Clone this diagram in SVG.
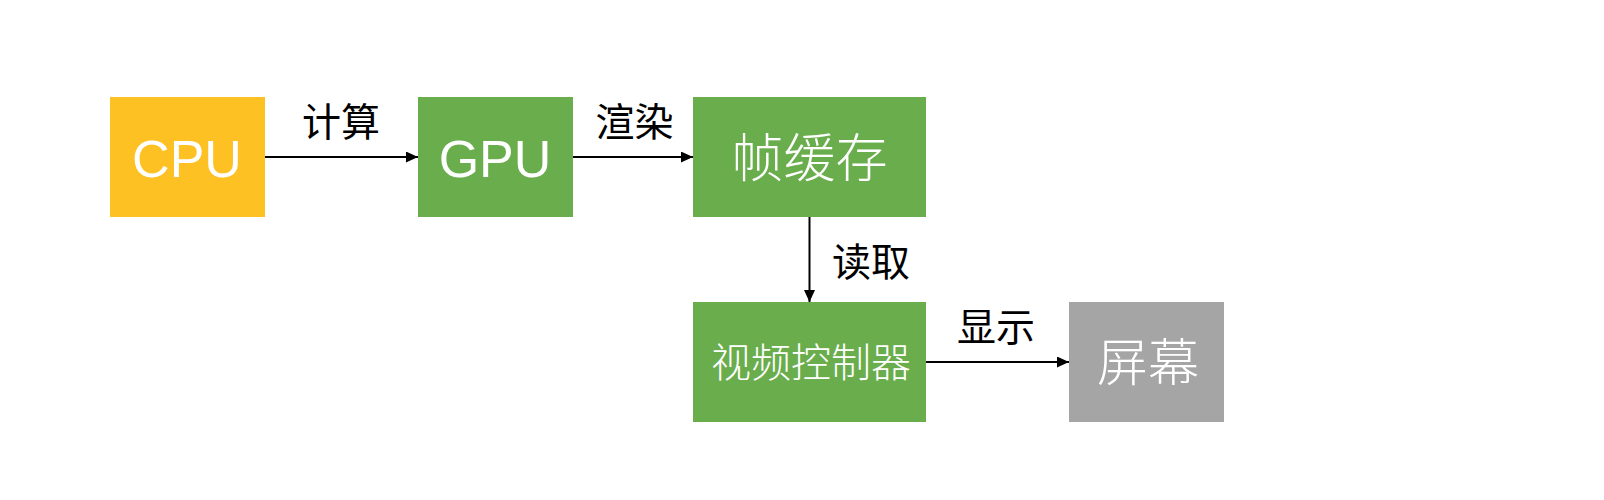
<svg xmlns="http://www.w3.org/2000/svg" width="1604" height="500" viewBox="0 0 1604 500">
<defs>
<style>
.box-y{fill:#FEC124}
.box-g{fill:#6AAD4C}
.box-s{fill:#A5A5A5}
.lat{font-family:"Liberation Sans",Arial,sans-serif;fill:#fff;text-anchor:middle}
.cjk{font-family:"Noto Sans CJK SC",sans-serif;fill:#fff;text-anchor:middle;font-weight:300}
.lbl{font-family:"Noto Sans CJK SC",sans-serif;fill:#000;text-anchor:middle;font-size:39px}
.edge{stroke:#000;stroke-width:2;fill:none}
</style>
<marker id="arr" viewBox="0 0 12 11" refX="12" refY="5.5" markerWidth="12" markerHeight="11" markerUnits="userSpaceOnUse" orient="auto">
<path d="M0,0 L12,5.5 L0,11 Z" fill="#000"/>
</marker>
</defs>
<rect width="1604" height="500" fill="#fff"/>
<g id="connectors">
<line class="edge" x1="265" y1="157" x2="418" y2="157" marker-end="url(#arr)"/>
<line class="edge" x1="573" y1="157" x2="693" y2="157" marker-end="url(#arr)"/>
<line class="edge" x1="809.5" y1="217" x2="809.5" y2="302" marker-end="url(#arr)"/>
<line class="edge" x1="926" y1="362" x2="1069" y2="362" marker-end="url(#arr)"/>
<text class="lbl" x="341" y="136">计算</text>
<text class="lbl" x="634.5" y="136">渲染</text>
<text class="lbl" x="871" y="276">读取</text>
<text class="lbl" x="996" y="341">显示</text>
</g>
<g id="cpu">
<rect class="box-y" x="110" y="97" width="155" height="120"/>
<text class="lat" x="187" y="177" font-size="52">CPU</text>
</g>
<g id="gpu">
<rect class="box-g" x="418" y="97" width="155" height="120"/>
<text class="lat" x="495" y="177" font-size="52">GPU</text>
</g>
<g id="framebuffer">
<rect class="box-g" x="693" y="97" width="233" height="120"/>
<text class="cjk" x="809.5" y="177" font-size="52">帧缓存</text>
</g>
<g id="videocontroller">
<rect class="box-g" x="693" y="302" width="233" height="120"/>
<text class="cjk" x="811" y="377" font-size="40">视频控制器</text>
</g>
<g id="screen">
<rect class="box-s" x="1069" y="302" width="155" height="120"/>
<text class="cjk" x="1148" y="381" font-size="51">屏幕</text>
</g>
</svg>
